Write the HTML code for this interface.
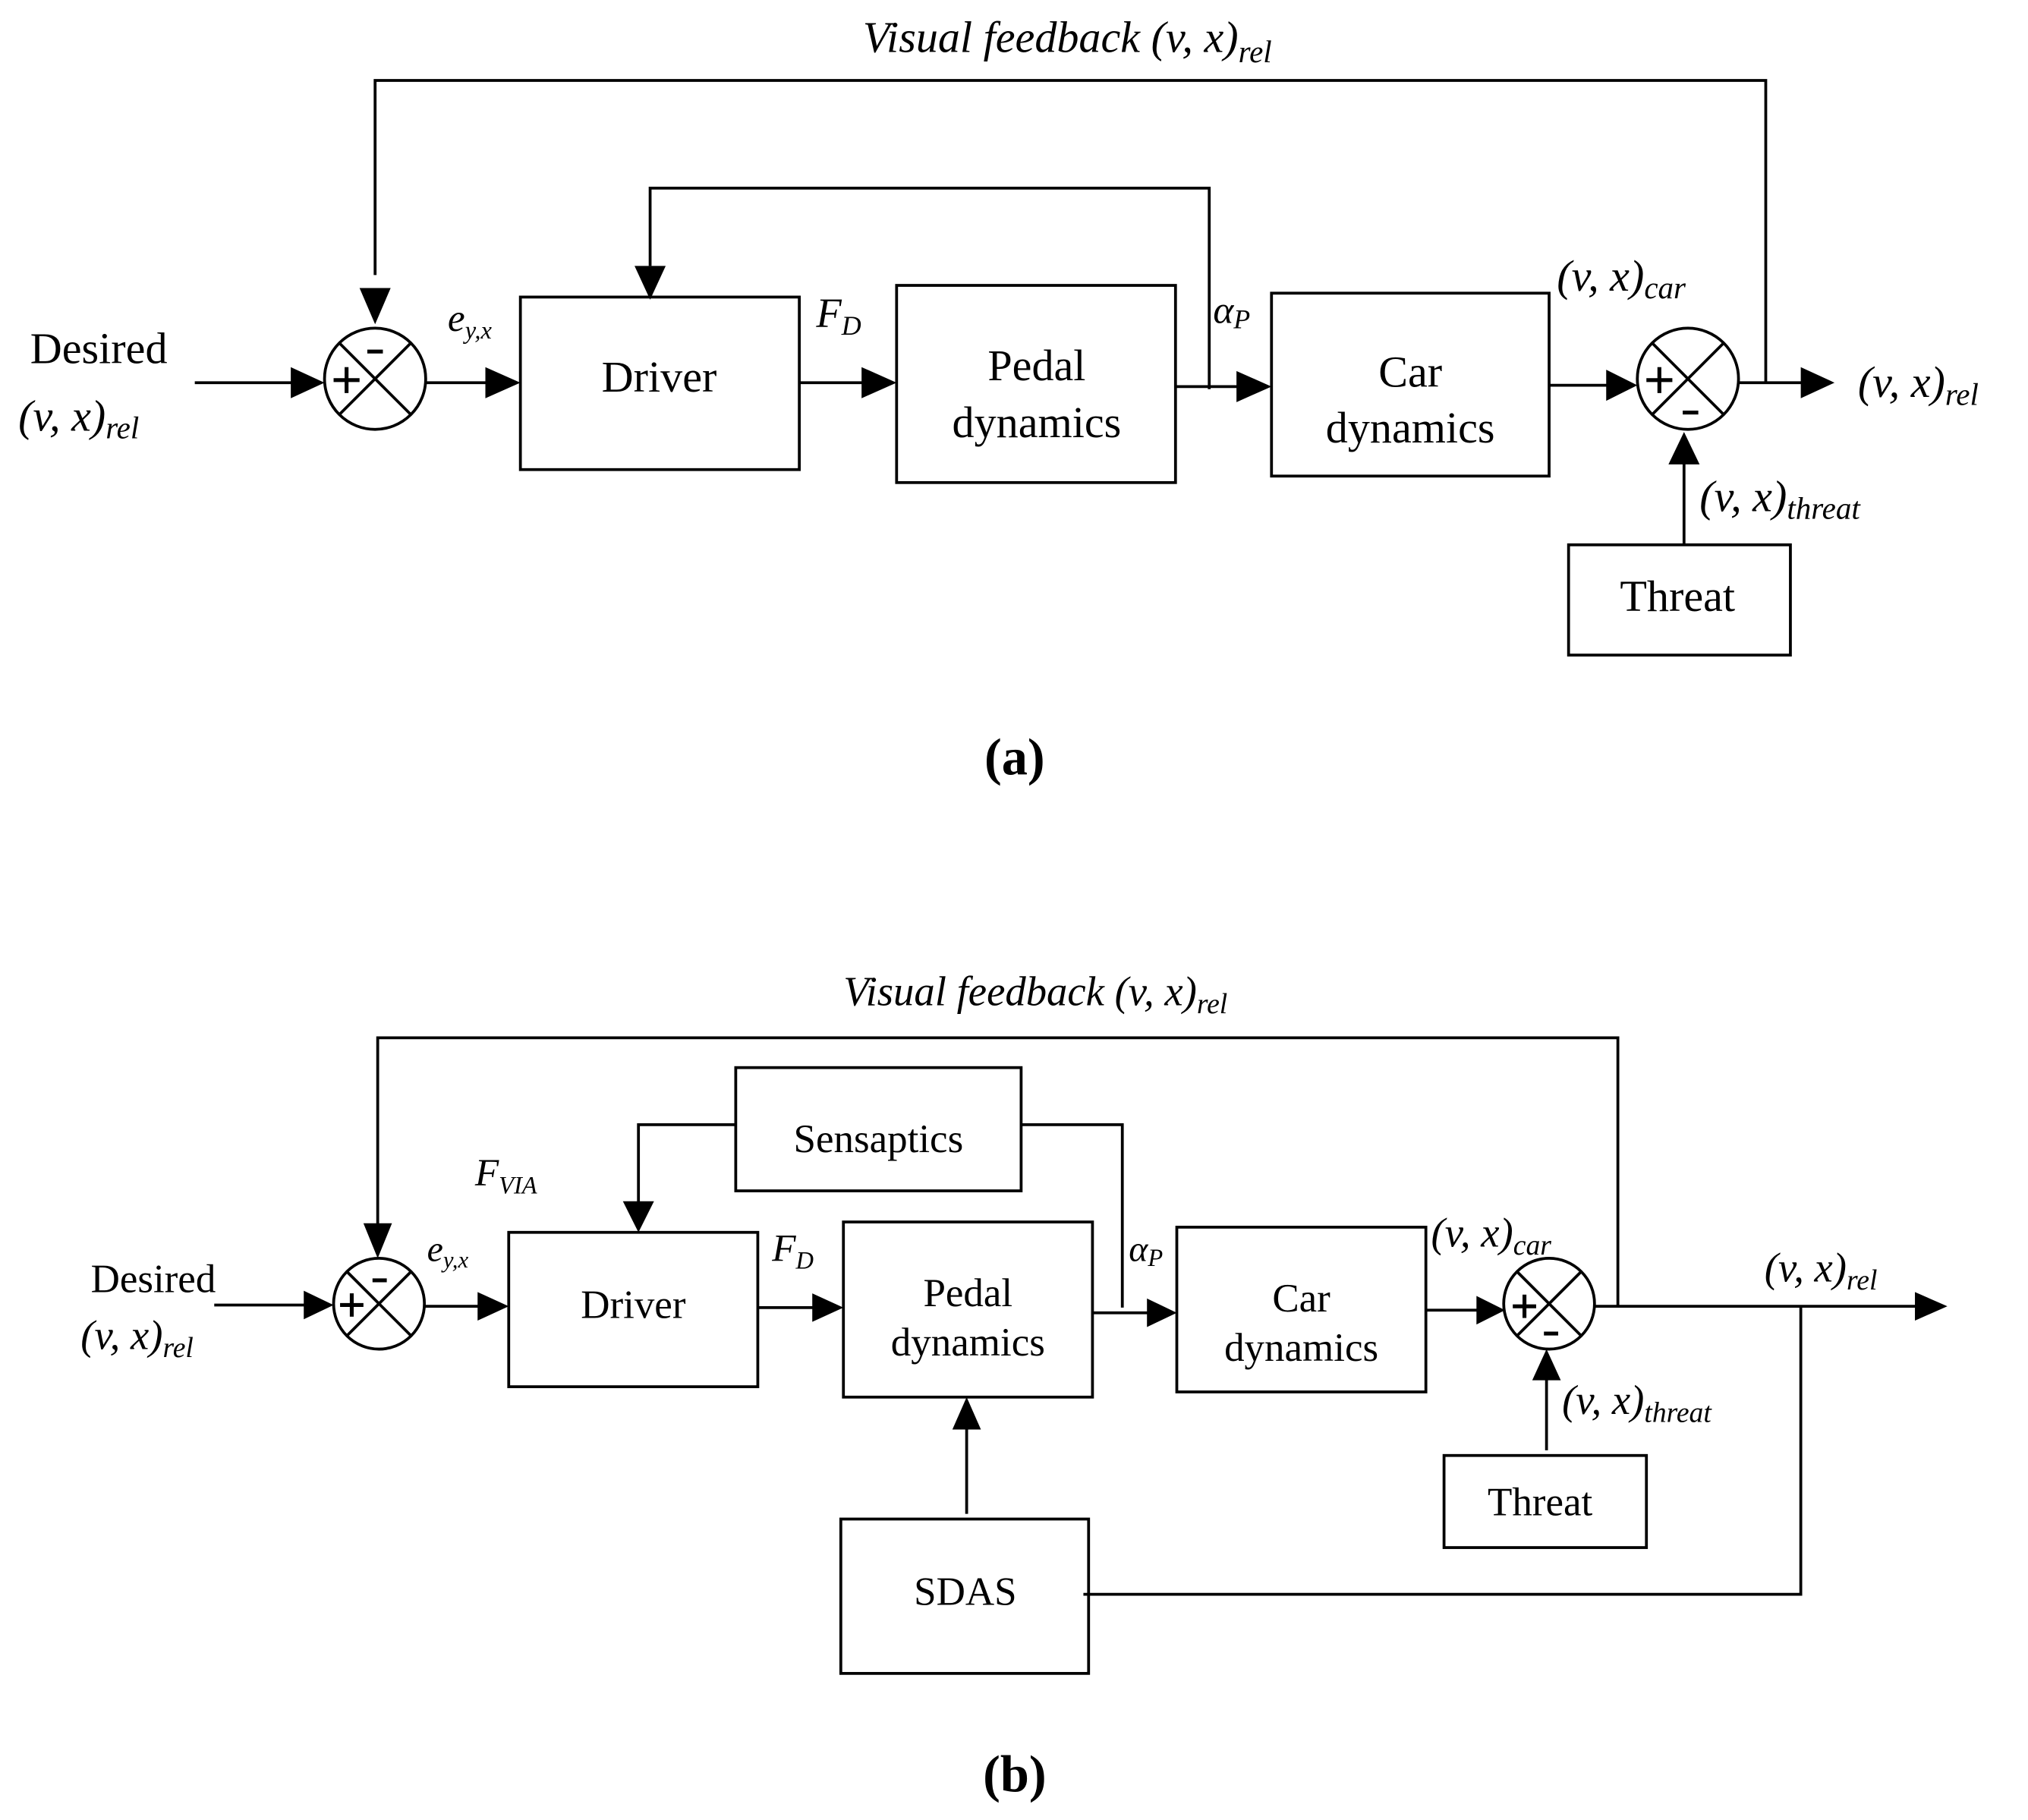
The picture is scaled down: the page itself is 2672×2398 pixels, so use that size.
<!DOCTYPE html>
<html><head><meta charset="utf-8"><style>
html,body{margin:0;padding:0;background:#fff;}
svg{display:block;}
text{font-family:"Liberation Serif",serif;fill:#000;}
.i{font-style:italic;}
</style></head><body>
<svg width="2672" height="2398" viewBox="0 0 1563 1403" xmlns="http://www.w3.org/2000/svg">
<g stroke="#000" stroke-width="2.2" fill="none">
<!-- (a) -->
<polyline points="289,212 289,62 1361,62 1361,295"/>
<line x1="150" y1="295" x2="226" y2="295"/>
<line x1="328" y1="295" x2="376" y2="295"/>
<rect x="401" y="229" width="215" height="133"/>
<line x1="616" y1="295" x2="666" y2="295"/>
<rect x="691" y="220" width="215" height="152"/>
<line x1="906" y1="298" x2="955" y2="298"/>
<polyline points="932,300 932,145 501,145 501,205"/>
<rect x="980" y="226" width="214" height="141"/>
<line x1="1194" y1="297" x2="1240" y2="297"/>
<line x1="1340" y1="295" x2="1390" y2="295"/>
<rect x="1209" y="420" width="171" height="85"/>
<line x1="1298" y1="420" x2="1298" y2="356"/>
<circle cx="289" cy="292" r="39"/>
<line x1="261" y1="264" x2="317" y2="320"/><line x1="317" y1="264" x2="261" y2="320"/>
<circle cx="1301" cy="292" r="39"/>
<line x1="1273" y1="264" x2="1329" y2="320"/><line x1="1329" y1="264" x2="1273" y2="320"/>
<!-- (b) -->
<polyline points="291,945 291,800 1247,800 1247,1007"/>
<line x1="165" y1="1006" x2="236" y2="1006"/>
<line x1="327" y1="1007" x2="370" y2="1007"/>
<rect x="392" y="950" width="192" height="119"/>
<line x1="584" y1="1008" x2="628" y2="1008"/>
<rect x="650" y="942" width="192" height="135"/>
<line x1="842" y1="1012" x2="886" y2="1012"/>
<rect x="907" y="946" width="192" height="127"/>
<rect x="567" y="823" width="220" height="95"/>
<polyline points="567,867 492,867 492,928"/>
<polyline points="787,867 865,867 865,1008"/>
<line x1="1099" y1="1010" x2="1140" y2="1010"/>
<line x1="1229" y1="1007" x2="1478" y2="1007"/>
<rect x="1113" y="1122" width="156" height="71"/>
<line x1="1192" y1="1118" x2="1192" y2="1062"/>
<rect x="648" y="1171" width="191" height="119"/>
<line x1="745" y1="1167" x2="745" y2="1100"/>
<polyline points="835,1229 1388,1229 1388,1007"/>
<circle cx="292" cy="1005" r="35"/>
<line x1="267" y1="980" x2="317" y2="1030"/><line x1="317" y1="980" x2="267" y2="1030"/>
<circle cx="1194" cy="1005" r="35"/>
<line x1="1169" y1="980" x2="1219" y2="1030"/><line x1="1219" y1="980" x2="1169" y2="1030"/>
</g>
<g stroke="#000" stroke-width="3" fill="none">
<line x1="257" y1="293" x2="277" y2="293"/><line x1="267" y1="283" x2="267" y2="303"/>
<line x1="283" y1="271" x2="295" y2="271"/>
<line x1="1269" y1="293" x2="1289" y2="293"/><line x1="1279" y1="283" x2="1279" y2="303"/>
<line x1="1297" y1="318" x2="1309" y2="318"/>
<line x1="262" y1="1006" x2="280" y2="1006"/><line x1="271" y1="997" x2="271" y2="1015"/>
<line x1="287" y1="987" x2="298" y2="987"/>
<line x1="1166" y1="1007" x2="1184" y2="1007"/><line x1="1175" y1="998" x2="1175" y2="1016"/>
<line x1="1190" y1="1028" x2="1201" y2="1028"/>
</g>
<g fill="#000">
<polygon points="224,283 250,295 224,307"/>
<polygon points="374,283 401,295 374,307"/>
<polygon points="664,283 691,295 664,307"/>
<polygon points="953,286 980,298 953,310"/>
<polygon points="1238,285 1262,297 1238,309"/>
<polygon points="1388,283 1414,295 1388,307"/>
<polygon points="277,222 289,250 301,222"/>
<polygon points="489,205 501,231 513,205"/>
<polygon points="1286,358 1298,333 1310,358"/>
<polygon points="234,995 257,1006 234,1017"/>
<polygon points="368,996 392,1007 368,1018"/>
<polygon points="626,997 650,1008 626,1019"/>
<polygon points="884,1001 907,1012 884,1023"/>
<polygon points="1138,999 1160,1010 1138,1021"/>
<polygon points="1476,996 1501,1007 1476,1018"/>
<polygon points="280,943 291,970 302,943"/>
<polygon points="480,926 492,950 504,926"/>
<polygon points="1181,1064 1192,1040 1203,1064"/>
<polygon points="734,1102 745,1077 756,1102"/>
</g>
<g font-size="34" text-anchor="middle">
<text x="76" y="280">Desired</text>
<text x="508" y="302">Driver</text>
<text x="799" y="293">Pedal</text>
<text x="799" y="337">dynamics</text>
<text x="1087" y="298">Car</text>
<text x="1087" y="341">dynamics</text>
<text x="1293" y="471">Threat</text>
<text x="782" y="597" font-weight="bold" font-size="40">(a)</text>
</g>
<g font-size="31" text-anchor="middle">
<text x="118" y="996">Desired</text>
<text x="488" y="1016">Driver</text>
<text x="746" y="1007">Pedal</text>
<text x="746" y="1045">dynamics</text>
<text x="1003" y="1011">Car</text>
<text x="1003" y="1049">dynamics</text>
<text x="677" y="888">Sensaptics</text>
<text x="1187" y="1168">Threat</text>
<text x="744" y="1237">SDAS</text>
<text x="782" y="1381" font-weight="bold" font-size="40">(b)</text>
</g>
<g class="i">
<text x="665" y="40" font-size="34">Visual feedback (v, x)<tspan font-size="24" dy="8">rel</tspan></text>
<text x="14" y="332" font-size="34">(v, x)<tspan font-size="24" dy="6">rel</tspan></text>
<text x="345" y="255" font-size="30">e<tspan font-size="19" dy="6">y,x</tspan></text>
<text x="629" y="252" font-size="32">F<tspan font-size="21" dy="6">D</tspan></text>
<text x="935" y="249" font-size="30">α<tspan font-size="21" dy="4">P</tspan></text>
<text x="1200" y="224" font-size="34">(v, x)<tspan font-size="24" dy="6">car</tspan></text>
<text x="1432" y="306" font-size="34">(v, x)<tspan font-size="24" dy="6">rel</tspan></text>
<text x="1310" y="394" font-size="34">(v, x)<tspan font-size="24" dy="6">threat</tspan></text>
<text x="650" y="775" font-size="32">Visual feedback (v, x)<tspan font-size="22" dy="6">rel</tspan></text>
<text x="62" y="1040" font-size="32">(v, x)<tspan font-size="22" dy="6">rel</tspan></text>
<text x="366" y="914" font-size="30">F<tspan font-size="19" dy="6">VIA</tspan></text>
<text x="329" y="972" font-size="28">e<tspan font-size="18" dy="5">y,x</tspan></text>
<text x="595" y="972" font-size="30">F<tspan font-size="19" dy="6">D</tspan></text>
<text x="870" y="972" font-size="28">α<tspan font-size="19" dy="4">P</tspan></text>
<text x="1103" y="961" font-size="32">(v, x)<tspan font-size="22" dy="6">car</tspan></text>
<text x="1360" y="988" font-size="32">(v, x)<tspan font-size="22" dy="6">rel</tspan></text>
<text x="1204" y="1090" font-size="32">(v, x)<tspan font-size="22" dy="6">threat</tspan></text>
</g>
</svg>
</body></html>
